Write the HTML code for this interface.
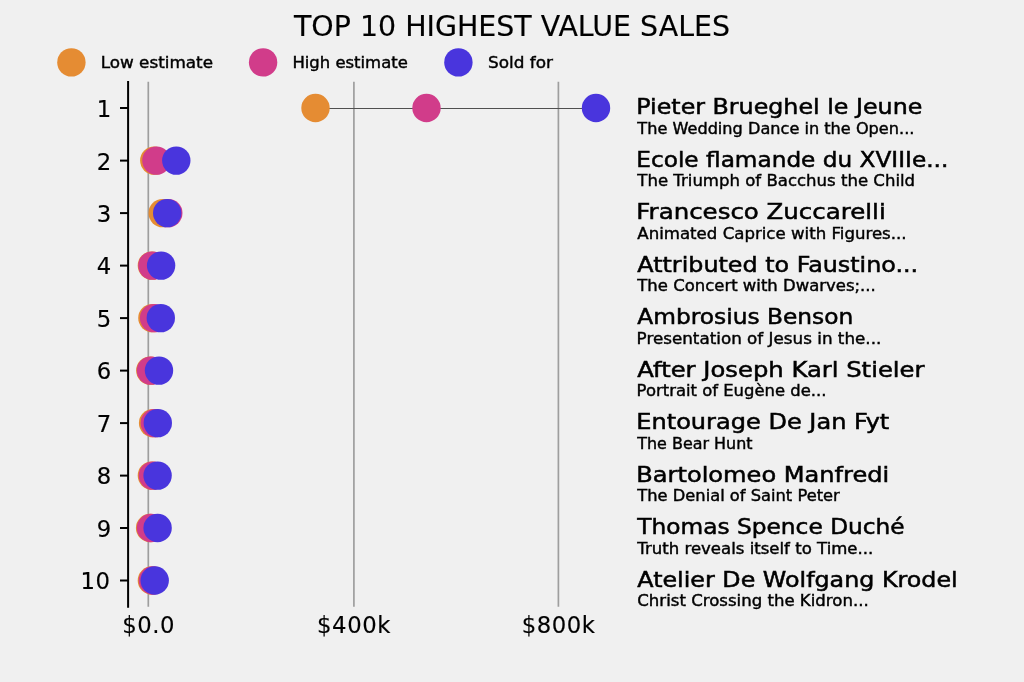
<!DOCTYPE html>
<html lang="en"><head><meta charset="utf-8"><title>Top 10 highest value sales</title>
<style>html,body{margin:0;padding:0;background:#f0f0f0;}body{width:1024px;height:682px;overflow:hidden;}svg{display:block;}
text{font-family:"DejaVu Sans","Liberation Sans",sans-serif;fill:#111;}
.t{font-size:28.44px;fill:#000;stroke:#000;stroke-width:.15px;}.k{font-size:22.76px;fill:#000;stroke:#000;stroke-width:.15px;}.kx{letter-spacing:.55px;}.n{font-size:21.85px;stroke:#000;stroke-width:.52px;fill:#000;}.s{font-size:15.0px;stroke:#000;stroke-width:.4px;fill:#000;}
</style></head><body>
<svg width="1024" height="682" viewBox="0 0 1024 682">
<rect width="1024" height="682" fill="#f0f0f0"/>
<text class="t" x="512" y="35.7" text-anchor="middle">TOP 10 HIGHEST VALUE SALES</text>
<circle cx="71.4" cy="62.4" r="14.2" fill="#e58c33"/>
<text class="s" x="100.7" y="67.6" textLength="112.3" lengthAdjust="spacingAndGlyphs">Low estimate</text>
<circle cx="263.1" cy="62.4" r="14.2" fill="#d13c8a"/>
<text class="s" x="292.4" y="67.6" textLength="115.4" lengthAdjust="spacingAndGlyphs">High estimate</text>
<circle cx="458.4" cy="62.4" r="14.2" fill="#4935dd"/>
<text class="s" x="488.0" y="67.6" textLength="65.0" lengthAdjust="spacingAndGlyphs">Sold for</text>
<line x1="148.3" y1="81.8" x2="148.3" y2="606.8" stroke="#9e9e9e" stroke-width="1.7"/>
<line x1="353.9" y1="81.8" x2="353.9" y2="606.8" stroke="#9e9e9e" stroke-width="1.7"/>
<line x1="558.4" y1="81.8" x2="558.4" y2="606.8" stroke="#9e9e9e" stroke-width="1.7"/>
<line x1="128.1" y1="80.9" x2="128.1" y2="607.7" stroke="#000" stroke-width="2"/>
<line x1="120" y1="108.0" x2="128.2" y2="108.0" stroke="#000" stroke-width="2"/>
<text class="k" x="111.2" y="117.0" text-anchor="end">1</text>
<line x1="120" y1="160.6" x2="128.2" y2="160.6" stroke="#000" stroke-width="2"/>
<text class="k" x="111.2" y="169.5" text-anchor="end">2</text>
<line x1="120" y1="213.1" x2="128.2" y2="213.1" stroke="#000" stroke-width="2"/>
<text class="k" x="111.2" y="222.0" text-anchor="end">3</text>
<line x1="120" y1="265.6" x2="128.2" y2="265.6" stroke="#000" stroke-width="2"/>
<text class="k" x="111.2" y="274.4" text-anchor="end">4</text>
<line x1="120" y1="318.1" x2="128.2" y2="318.1" stroke="#000" stroke-width="2"/>
<text class="k" x="111.2" y="326.9" text-anchor="end">5</text>
<line x1="120" y1="370.6" x2="128.2" y2="370.6" stroke="#000" stroke-width="2"/>
<text class="k" x="111.2" y="379.4" text-anchor="end">6</text>
<line x1="120" y1="423.1" x2="128.2" y2="423.1" stroke="#000" stroke-width="2"/>
<text class="k" x="111.2" y="431.9" text-anchor="end">7</text>
<line x1="120" y1="475.6" x2="128.2" y2="475.6" stroke="#000" stroke-width="2"/>
<text class="k" x="111.2" y="484.4" text-anchor="end">8</text>
<line x1="120" y1="528.0" x2="128.2" y2="528.0" stroke="#000" stroke-width="2"/>
<text class="k" x="111.2" y="536.9" text-anchor="end">9</text>
<line x1="120" y1="580.5" x2="128.2" y2="580.5" stroke="#000" stroke-width="2"/>
<text class="k kx" x="110.6" y="589.4" text-anchor="end">10</text>
<text class="k kx" x="148.6" y="633.2" text-anchor="middle">$0.0</text>
<text class="k kx" x="354.0" y="633.2" text-anchor="middle">$400k</text>
<text class="k kx" x="558.6" y="633.2" text-anchor="middle">$800k</text>
<line x1="315.5" y1="108.5" x2="596.0" y2="108.5" stroke="#505050" stroke-width="1"/>
<circle cx="315.5" cy="108.0" r="14.2" fill="#e58c33"/>
<circle cx="426.5" cy="108.0" r="14.2" fill="#d13c8a"/>
<circle cx="596.0" cy="108.0" r="14.2" fill="#4935dd"/>
<circle cx="154.3" cy="160.6" r="14.2" fill="#e58c33"/>
<circle cx="156.4" cy="160.6" r="14.2" fill="#d13c8a"/>
<circle cx="176.3" cy="160.6" r="14.2" fill="#4935dd"/>
<circle cx="162.7" cy="213.1" r="14.2" fill="#e58c33"/>
<circle cx="168.3" cy="213.1" r="14.2" fill="#d13c8a"/>
<circle cx="167.2" cy="213.1" r="14.2" fill="#4935dd"/>
<circle cx="151.9" cy="265.6" r="14.2" fill="#e58c33"/>
<circle cx="152.4" cy="265.6" r="14.2" fill="#d13c8a"/>
<circle cx="161.1" cy="265.6" r="14.2" fill="#4935dd"/>
<circle cx="152.4" cy="318.1" r="14.2" fill="#e58c33"/>
<circle cx="154.1" cy="318.1" r="14.2" fill="#d13c8a"/>
<circle cx="160.8" cy="318.1" r="14.2" fill="#4935dd"/>
<circle cx="150.3" cy="370.6" r="14.2" fill="#e58c33"/>
<circle cx="151.0" cy="370.6" r="14.2" fill="#d13c8a"/>
<circle cx="159.0" cy="370.6" r="14.2" fill="#4935dd"/>
<circle cx="153.1" cy="423.1" r="14.2" fill="#e58c33"/>
<circle cx="154.8" cy="423.1" r="14.2" fill="#d13c8a"/>
<circle cx="157.8" cy="423.1" r="14.2" fill="#4935dd"/>
<circle cx="151.9" cy="475.6" r="14.2" fill="#e58c33"/>
<circle cx="152.9" cy="475.6" r="14.2" fill="#d13c8a"/>
<circle cx="157.6" cy="475.6" r="14.2" fill="#4935dd"/>
<circle cx="150.1" cy="528.0" r="14.2" fill="#e58c33"/>
<circle cx="151.0" cy="528.0" r="14.2" fill="#d13c8a"/>
<circle cx="157.6" cy="528.0" r="14.2" fill="#4935dd"/>
<circle cx="151.9" cy="580.5" r="14.2" fill="#e58c33"/>
<circle cx="152.9" cy="580.5" r="14.2" fill="#d13c8a"/>
<circle cx="154.7" cy="580.5" r="14.2" fill="#4935dd"/>
<text class="n" x="636.3" y="114.1" textLength="286.0" lengthAdjust="spacingAndGlyphs">Pieter Brueghel le Jeune</text>
<text class="s" x="637.3" y="133.6" textLength="277.1" lengthAdjust="spacingAndGlyphs">The Wedding Dance in the Open...</text>
<text class="n" x="636.3" y="166.6" textLength="312.0" lengthAdjust="spacingAndGlyphs">Ecole flamande du XVIIIe...</text>
<text class="s" x="637.3" y="186.1" textLength="277.8" lengthAdjust="spacingAndGlyphs">The Triumph of Bacchus the Child</text>
<text class="n" x="636.3" y="219.1" textLength="249.4" lengthAdjust="spacingAndGlyphs">Francesco Zuccarelli</text>
<text class="s" x="637.3" y="238.6" textLength="269.3" lengthAdjust="spacingAndGlyphs">Animated Caprice with Figures...</text>
<text class="n" x="637.3" y="271.6" textLength="280.9" lengthAdjust="spacingAndGlyphs">Attributed to Faustino...</text>
<text class="s" x="637.3" y="291.1" textLength="238.5" lengthAdjust="spacingAndGlyphs">The Concert with Dwarves;...</text>
<text class="n" x="637.3" y="324.1" textLength="216.0" lengthAdjust="spacingAndGlyphs">Ambrosius Benson</text>
<text class="s" x="636.6" y="343.6" textLength="244.7" lengthAdjust="spacingAndGlyphs">Presentation of Jesus in the...</text>
<text class="n" x="637.3" y="376.6" textLength="287.2" lengthAdjust="spacingAndGlyphs">After Joseph Karl Stieler</text>
<text class="s" x="636.6" y="396.1" textLength="189.8" lengthAdjust="spacingAndGlyphs">Portrait of Eugène de...</text>
<text class="n" x="636.3" y="429.1" textLength="253.0" lengthAdjust="spacingAndGlyphs">Entourage De Jan Fyt</text>
<text class="s" x="637.3" y="448.6" textLength="115.2" lengthAdjust="spacingAndGlyphs">The Bear Hunt</text>
<text class="n" x="636.3" y="481.6" textLength="253.0" lengthAdjust="spacingAndGlyphs">Bartolomeo Manfredi</text>
<text class="s" x="637.3" y="501.1" textLength="202.5" lengthAdjust="spacingAndGlyphs">The Denial of Saint Peter</text>
<text class="n" x="637.3" y="534.1" textLength="267.4" lengthAdjust="spacingAndGlyphs">Thomas Spence Duché</text>
<text class="s" x="637.3" y="553.6" textLength="236.0" lengthAdjust="spacingAndGlyphs">Truth reveals itself to Time...</text>
<text class="n" x="637.3" y="586.6" textLength="320.4" lengthAdjust="spacingAndGlyphs">Atelier De Wolfgang Krodel</text>
<text class="s" x="637.3" y="606.1" textLength="231.4" lengthAdjust="spacingAndGlyphs">Christ Crossing the Kidron...</text>
</svg></body></html>
